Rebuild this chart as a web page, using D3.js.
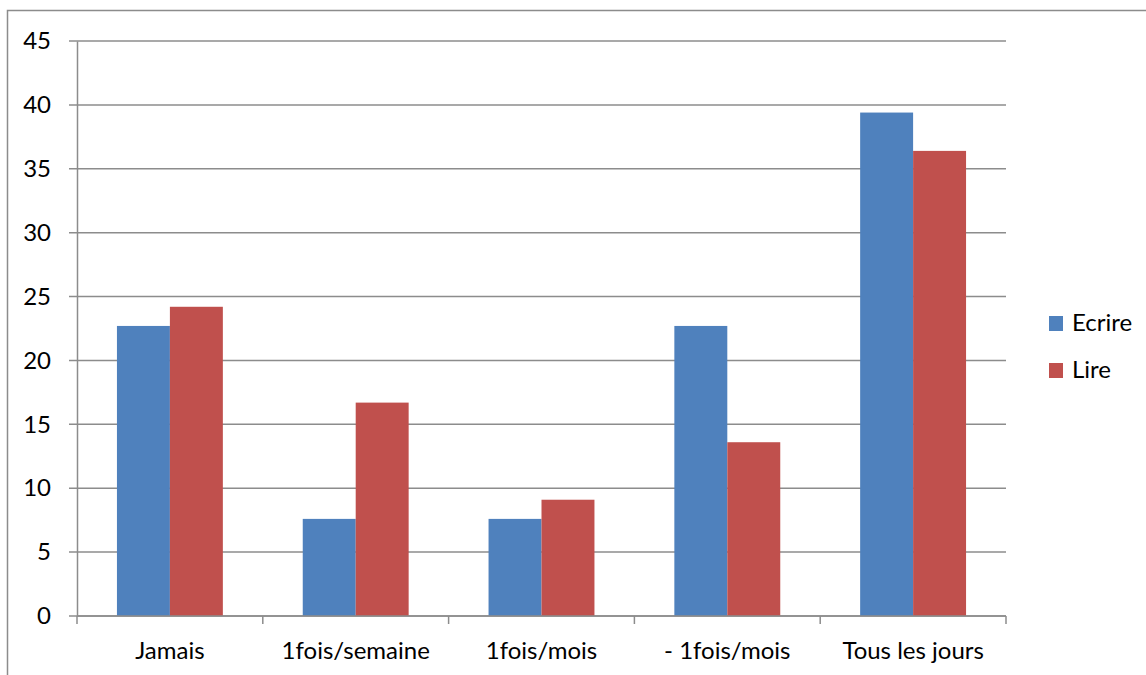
<!DOCTYPE html>
<html><head><meta charset="utf-8">
<script src="https://cdn.jsdelivr.net/npm/d3@7"></script>
<style>body{margin:0;background:#fff}svg{display:block}text{font-family:Lato,"Open Sans",sans-serif;fill:#000}</style>
</head><body><svg id="c" width="1146" height="675"></svg>
<script>
const categories = ["Jamais","1fois/semaine","1fois/mois","- 1fois/mois","Tous les jours"];
const seriesNames = ["Ecrire","Lire"];
const ecrire = [22.7, 7.6, 7.6, 22.7, 39.4];
const lire = [24.2, 16.7, 9.1, 13.6, 36.4];
const colors = ["#4F81BD","#C0504D"];
const yTicks = [0,5,10,15,20,25,30,35,40,45];

const svg = d3.select("#c");
const L=77, R=1006, T=41, B=616;
svg.append("rect").attr("x",7.5).attr("y",10.5).attr("width",1160).attr("height",700)
  .attr("fill","none").attr("stroke","#8c8c8c").attr("stroke-width",1.5);

const x = d3.scaleBand().domain(categories).range([L,R]).paddingInner(0.43).paddingOuter(0.215);
const xs = d3.scaleBand().domain(seriesNames).range([0,x.bandwidth()]);
const y = d3.scaleLinear().domain([0,45]).range([B,T]);
const xOuter = d3.scaleBand().domain(categories).range([L,R]);

svg.append("g").selectAll("line").data(yTicks).join("line")
  .attr("x1",L-8).attr("x2",R).attr("y1",d=>y(d)).attr("y2",d=>y(d))
  .attr("stroke","#8c8c8c").attr("stroke-width",1.5);

const data = [ecrire, lire];
svg.append("g").selectAll("g").data(seriesNames).join("g")
  .attr("fill",(d,i)=>colors[i])
  .selectAll("rect").data((s,i)=>data[i].map((v,j)=>({c:categories[j],v,s})))
  .join("rect")
  .attr("x",d=>x(d.c)+xs(d.s)).attr("width",xs.bandwidth())
  .attr("y",d=>y(d.v)).attr("height",d=>y(0)-y(d.v));

const ya = d3.axisLeft(y).tickValues(yTicks).tickSize(0).tickPadding(0);
const gy = svg.append("g").attr("transform",`translate(${L},0)`).call(ya);
gy.select(".domain").attr("stroke","#8c8c8c").attr("stroke-width",1.5);
gy.selectAll("text").attr("x",-26).attr("font-size",24).attr("font-family","Lato").attr("fill","#000");

const xa = d3.axisBottom(xOuter).tickSize(0).tickPadding(0);
const gx = svg.append("g").attr("transform",`translate(0,${B})`).call(xa);
gx.select(".domain").remove();
gx.selectAll("text").attr("y",26).attr("font-size",24).attr("font-family","Lato").attr("fill","#000");
svg.append("line").attr("x1",L).attr("x2",R).attr("y1",B).attr("y2",B).attr("stroke","#8c8c8c").attr("stroke-width",1.5);
const bounds = categories.map(c=>xOuter(c)).concat([R]);
svg.append("g").selectAll("line").data(bounds).join("line")
  .attr("x1",d=>d).attr("x2",d=>d).attr("y1",B).attr("y2",B+8)
  .attr("stroke","#8c8c8c").attr("stroke-width",1.5);

const lg = svg.append("g").selectAll("g").data(seriesNames).join("g")
  .attr("transform",(d,i)=>`translate(1049,${316+i*47})`);
lg.append("rect").attr("width",14).attr("height",15).attr("fill",(d,i)=>colors[i]);
lg.append("text").attr("x",23).attr("y",15).attr("font-size",24).text(d=>d);
</script></body></html>
